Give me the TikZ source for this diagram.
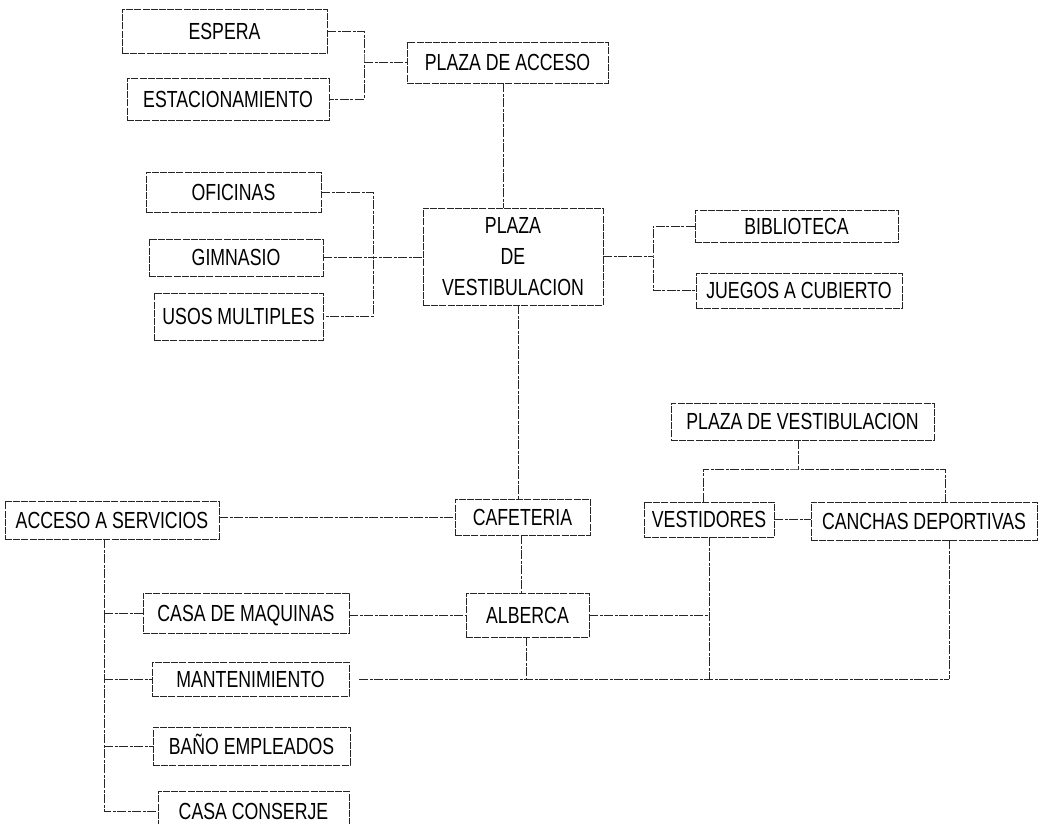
\documentclass[tikz,border=0pt]{standalone}
\usepackage{fontspec}
\setmainfont{Liberation Sans}[FakeStretch=0.76]
\newcommand\diafs{\fontsize{23.3}{31}\selectfont}
\tikzset{
  box/.style={draw=black!85, line width=0.8pt, dash pattern=on 7pt off 1.2pt, inner sep=0pt, font=\diafs, text=black},
  sb/.style={box, text height=16.7pt, text depth=0pt},
  ln/.style={draw=black!85, line width=0.8pt, dash pattern=on 9pt off 1.5pt on 3pt off 1.5pt},
}
\begin{document}
\begin{tikzpicture}[x=1pt,y=-1pt]
\useasboundingbox (0,0) rectangle (1047,824);
% top group
\node[sb, minimum width=205pt, minimum height=44pt] (espera) at (224.5,31) {ESPERA};
\node[sb, minimum width=202pt, minimum height=42pt] (estac) at (228,99) {ESTACIONAMIENTO};
\node[sb, minimum width=201pt, minimum height=41pt] (acceso) at (507.5,62.5) {PLAZA DE ACCESO};
% middle group
\node[sb, minimum width=175pt, minimum height=40pt] (ofic) at (233.5,192) {OFICINAS};
\node[sb, minimum width=174pt, minimum height=37pt] (gimn) at (236,257.5) {GIMNASIO};
\node[sb, minimum width=169pt, minimum height=47pt] (usos) at (238.5,316.5) {USOS MULTIPLES};
\node[box, align=center, minimum width=180pt, minimum height=97pt] (vest) at (513,256.5) {PLAZA\\DE\\VESTIBULACION};
\node[sb, minimum width=203pt, minimum height=32pt] (bib) at (796.5,226) {BIBLIOTECA};
\node[sb, minimum width=206pt, minimum height=35pt] (juegos) at (799,290.5) {JUEGOS A CUBIERTO};
% lower right
\node[sb, minimum width=263pt, minimum height=37pt] (pvr) at (802.5,421.5) {PLAZA DE VESTIBULACION};
\node[sb, minimum width=130pt, minimum height=35pt] (vestid) at (709,519.5) {VESTIDORES};
\node[sb, minimum width=226pt, minimum height=38pt] (canchas) at (924,521) {CANCHAS DEPORTIVAS};
% central column
\node[sb, minimum width=214pt, minimum height=38pt] (acc) at (112,520) {ACCESO A SERVICIOS};
\node[sb, minimum width=135pt, minimum height=36pt] (cafe) at (522.5,517) {CAFETERIA};
\node[sb, minimum width=123pt, minimum height=44pt] (alb) at (527.5,615) {ALBERCA};
% services
\node[sb, minimum width=206pt, minimum height=40pt] (maq) at (246,613) {CASA DE MAQUINAS};
\node[sb, minimum width=197pt, minimum height=34pt] (mant) at (250.5,679) {MANTENIMIENTO};
\node[sb, minimum width=197pt, minimum height=38pt] (bano) at (251.5,746) {BAÑO EMPLEADOS};
\node[sb, minimum width=191pt, minimum height=40pt] (cons) at (253.5,811) {CASA CONSERJE};
% helper coordinates
\coordinate (br1) at (364,62.5);
\coordinate (br2) at (373,257.5);
\coordinate (br3) at (653,256.5);
\coordinate (tb) at (798,469);
\coordinate (sp) at (104,0);
\coordinate (bl) at (949,679);
% connectors: top
\draw[ln] (espera.east) -| (br1) |- (estac.east);
\draw[ln] (br1) -- (acceso.west);
\draw[ln] ([xshift=-4.5pt]acceso.south) -- ([xshift=-10pt]vest.north);
% connectors: middle
\draw[ln] (ofic.east) -| (br2) |- (usos.east);
\draw[ln] (gimn.east) -- (gimn.east -| vest.west);
\draw[ln] (vest.east) -- (br3);
\draw[ln] (bib.west) -| (br3) |- (juegos.west);
\draw[ln] ([xshift=5pt]vest.south) -- ([xshift=-4.5pt]cafe.north);
% connectors: central column
\draw[ln] (acc.east |- cafe.west) -- (cafe.west);
\draw[ln] ([xshift=-1.5pt]cafe.south) -- ([xshift=-6.5pt]alb.north);
\draw[ln] (maq.east |- alb.west) -- (alb.west);
\draw[ln] (alb.east) -- (alb.east -| vestid.south);
\draw[ln] ([xshift=-1.5pt]alb.south) -- ([xshift=-1.5pt]alb.south |- bl);
% connectors: right group
\draw[ln] ([xshift=-4.5pt]pvr.south) -- (tb);
\draw[ln] ([xshift=-6pt]vestid.north) |- (tb) -| ([xshift=21pt]canchas.north);
\draw[ln] (vestid.east) -- (vestid.east -| canchas.west);
\draw[ln] (vestid.south) -- (vestid.south |- bl);
\draw[ln] ([xshift=25pt]canchas.south) -- (bl);
\draw[ln] ([xshift=10pt]mant.east |- bl) -- (bl);
% connectors: services spine
\draw[ln] (acc.south -| sp) |- (cons.west);
\draw[ln] (maq.west -| sp) -- (maq.west);
\draw[ln] (mant.west -| sp) -- (mant.west);
\draw[ln] (bano.west -| sp) -- (bano.west);
\end{tikzpicture}
\end{document}
